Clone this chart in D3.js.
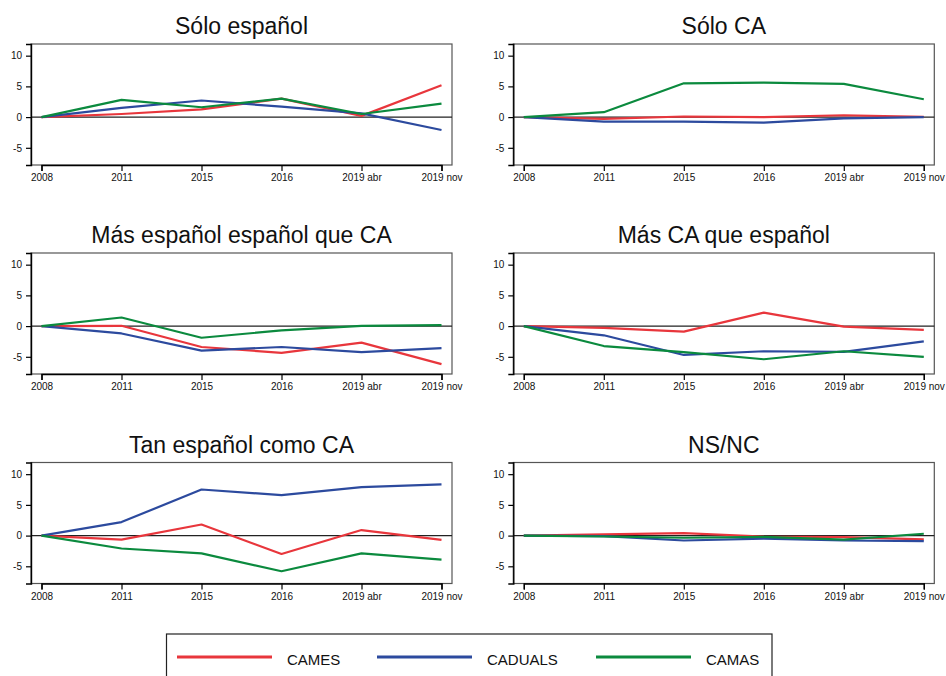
<!DOCTYPE html>
<html>
<head>
<meta charset="utf-8">
<script src="https://cdn.jsdelivr.net/npm/d3@7"></script>
<style>
  body { margin: 0; background: #fff; }
  svg { display: block; font-family: "Liberation Sans", Arial, sans-serif; }
</style>
</head>
<body>
<svg id="chart" width="946" height="676"></svg>
<script>
var waves = ["2008", "2011", "2015", "2016", "2019 abr", "2019 nov"];
var panels = ["Sólo español", "Sólo CA", "Más español español que CA", "Más CA que español", "Tan español como CA", "NS/NC"];
var yTicks = [-5, 0, 5, 10];

// one row per panel, one value per wave
var cames = [
  [0, 0.5, 1.25, 3.0, 0.2, 5.2],
  [0, -0.3, 0.1, 0, 0.3, 0.05],
  [0, 0.05, -3.4, -4.35, -2.7, -6.2],
  [0, -0.3, -0.9, 2.2, -0.1, -0.6],
  [0, -0.65, 1.8, -3.0, 0.9, -0.7],
  [0, 0.2, 0.4, -0.15, -0.25, -0.6]
];
var caduals = [
  [0, 1.5, 2.7, 1.7, 0.6, -2.1],
  [0, -0.75, -0.75, -0.9, -0.2, 0],
  [0, -1.2, -4.0, -3.4, -4.25, -3.6],
  [0, -1.5, -4.7, -4.1, -4.2, -2.5],
  [0, 2.2, 7.5, 6.6, 7.9, 8.35],
  [0, -0.1, -0.8, -0.5, -0.8, -0.9]
];
var camas = [
  [0, 2.8, 1.6, 3.0, 0.5, 2.2],
  [0, 0.8, 5.5, 5.6, 5.4, 2.9],
  [0, 1.4, -1.9, -0.7, 0.05, 0.15],
  [0, -3.25, -4.25, -5.4, -4.1, -5.0],
  [0, -2.1, -2.9, -5.8, -2.9, -3.9],
  [0, -0.15, -0.35, -0.2, -0.65, 0.3]
];
var seriesNames = ["CAMES", "CADUALS", "CAMAS"];
var seriesColors = ["#e8363c", "#2c4a9e", "#0b8a3e"];
var seriesData = [cames, caduals, camas];

var svg = d3.select("#chart");
var boxW = 421, boxH = 121;
var colX = [31, 513.3];
var rowY = [44, 253, 462.5];

var x = d3.scalePoint().domain(waves).range([10.5, boxW - 10.5]);
var y = d3.scaleLinear().domain([-7.8, 11.9]).range([boxH, 0]);

var line = d3.line()
  .x(function(d, i) { return x(waves[i]); })
  .y(function(d) { return y(d); });

panels.forEach(function(title, p) {
  var g = svg.append("g")
    .attr("transform", "translate(" + colX[p % 2] + "," + rowY[Math.floor(p / 2)] + ")");

  g.append("rect")
    .attr("width", boxW).attr("height", boxH)
    .attr("fill", "none").attr("stroke", "#555").attr("stroke-width", 1.2);

  g.append("text")
    .attr("x", boxW / 2).attr("y", -10)
    .attr("text-anchor", "middle")
    .attr("font-size", 23)
    .attr("fill", "#111")
    .text(title);

  g.append("line")
    .attr("x1", 0).attr("x2", boxW)
    .attr("y1", y(0)).attr("y2", y(0))
    .attr("stroke", "#222").attr("stroke-width", 1.2);

  var ya = g.append("g")
    .call(d3.axisLeft(y).tickValues(yTicks).tickSize(5).tickPadding(4)
      .tickFormat(function(d) { return String(d); }));
  var xa = g.append("g")
    .attr("transform", "translate(0," + boxH + ")")
    .call(d3.axisBottom(x).tickSize(6).tickPadding(3));
  [ya, xa].forEach(function(a) {
    a.select(".domain").attr("stroke", "#000").attr("stroke-width", 1.4);
    a.selectAll(".tick line").attr("stroke", "#000").attr("stroke-width", 1.2);
    a.selectAll("text").attr("font-size", 10).attr("fill", "#111")
      .attr("font-family", "Liberation Sans, Arial, sans-serif");
  });

  seriesData.forEach(function(s, k) {
    g.append("path")
      .datum(s[p])
      .attr("fill", "none")
      .attr("stroke", seriesColors[k])
      .attr("stroke-width", 2.2)
      .attr("stroke-linejoin", "round")
      .attr("d", line);
  });
});

// legend
var legend = svg.append("g").attr("transform", "translate(166.5,634)");
legend.append("rect")
  .attr("width", 605.5).attr("height", 60)
  .attr("fill", "none").attr("stroke", "#222").attr("stroke-width", 1.2);

var itemOffsets = [10.5, 210.5, 429.5];
seriesNames.forEach(function(name, k) {
  var ix = itemOffsets[k];
  legend.append("line")
    .attr("x1", ix).attr("x2", ix + 95)
    .attr("y1", 23).attr("y2", 23)
    .attr("stroke", seriesColors[k]).attr("stroke-width", 3);
  legend.append("text")
    .attr("x", ix + 110).attr("y", 31)
    .attr("font-size", 15).attr("fill", "#111")
    .text(name);
});
</script>
</body>
</html>
